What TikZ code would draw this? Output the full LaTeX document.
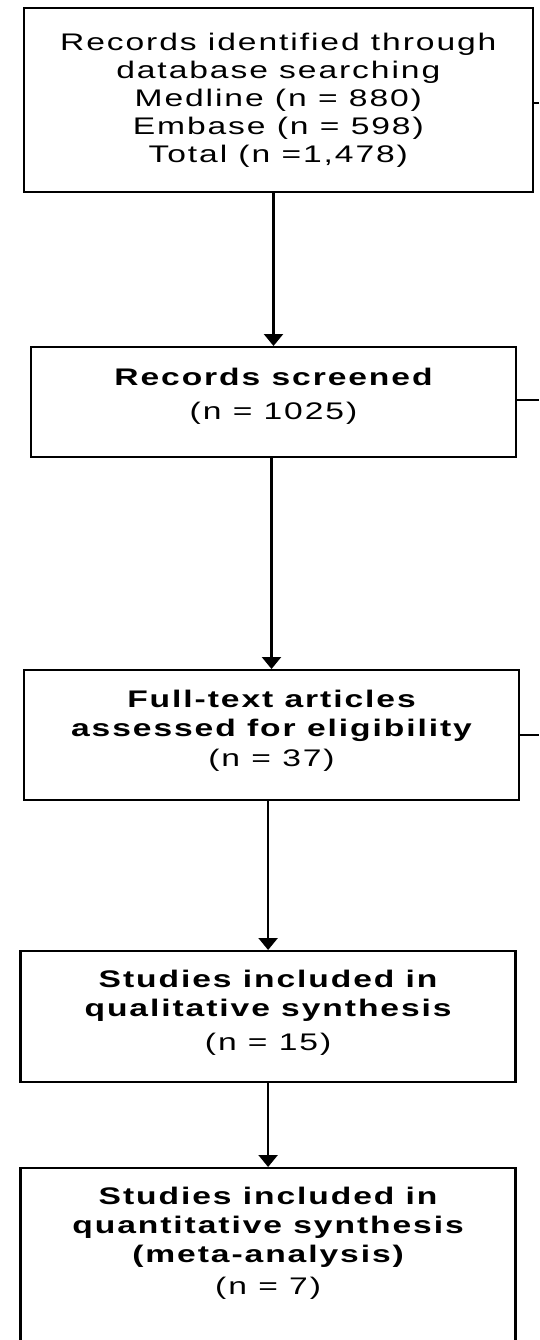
\documentclass[tikz,border=0pt]{standalone}
\usepackage{fontspec}
\setmainfont{Liberation Sans}[FakeStretch=1.4, LetterSpace=8]
\usetikzlibrary{arrows.meta}
\begin{document}
\begin{tikzpicture}[x=1pt,y=-1pt,
  box/.style={draw, line width=2.4pt, anchor=north, align=center, inner sep=0pt,
    font=\fontsize{24}{29}\selectfont},
  arr/.style={line width=2.4pt, -{Triangle[width=19pt,length=12pt]}},
  stub/.style={line width=2pt}]
\useasboundingbox (0,0) rectangle (539,1340);
\node[box, minimum width=509pt, minimum height=184pt, font=\fontsize{24}{28}\selectfont] (b1) at (278.3,7)
  {Records identified through\\database searching\\Medline (n = 880)\\Embase (n = 598)\\Total (n =1,478)};
\node[box, minimum width=485pt, minimum height=110pt] (b2) at (273.5,346)
  {\bfseries Records screened\\[5pt](n = 1025)\\[-12pt]\mbox{}};
\node[box, minimum width=495pt, minimum height=130pt] (b3) at (271.5,669)
  {\bfseries Full-text articles\\\bfseries assessed for eligibility\\[1pt](n = 37)\\[-16pt]\mbox{}};
\node[box, minimum width=495pt, minimum height=131pt] (b4) at (268.1,950)
  {\bfseries Studies included in\\\bfseries qualitative synthesis\\[5pt](n = 15)\\[-16pt]\mbox{}};
\node[box, minimum width=495pt, minimum height=260pt] (b5) at (268.1,1167)
  {\bfseries Studies included in\\\bfseries quantitative synthesis\\\bfseries (meta-analysis)\\[3pt](n = 7)\\[85pt]\mbox{}};
\coordinate (s1) at (539,103);
\coordinate (s2) at (539,400);
\coordinate (s3) at (539,735);
\draw[stub] (b1.east |- s1) -- (s1);
\draw[stub] (b2.east |- s2) -- (s2);
\draw[stub] (b3.east |- s3) -- (s3);
\draw[arr] (b2.north |- b1.south) -- (b2.north);
\draw[arr] (b3.north |- b2.south) -- (b3.north);
\draw[arr] (b4.north |- b3.south) -- (b4.north);
\draw[arr] (b5.north |- b4.south) -- (b5.north);
\end{tikzpicture}
\end{document}
